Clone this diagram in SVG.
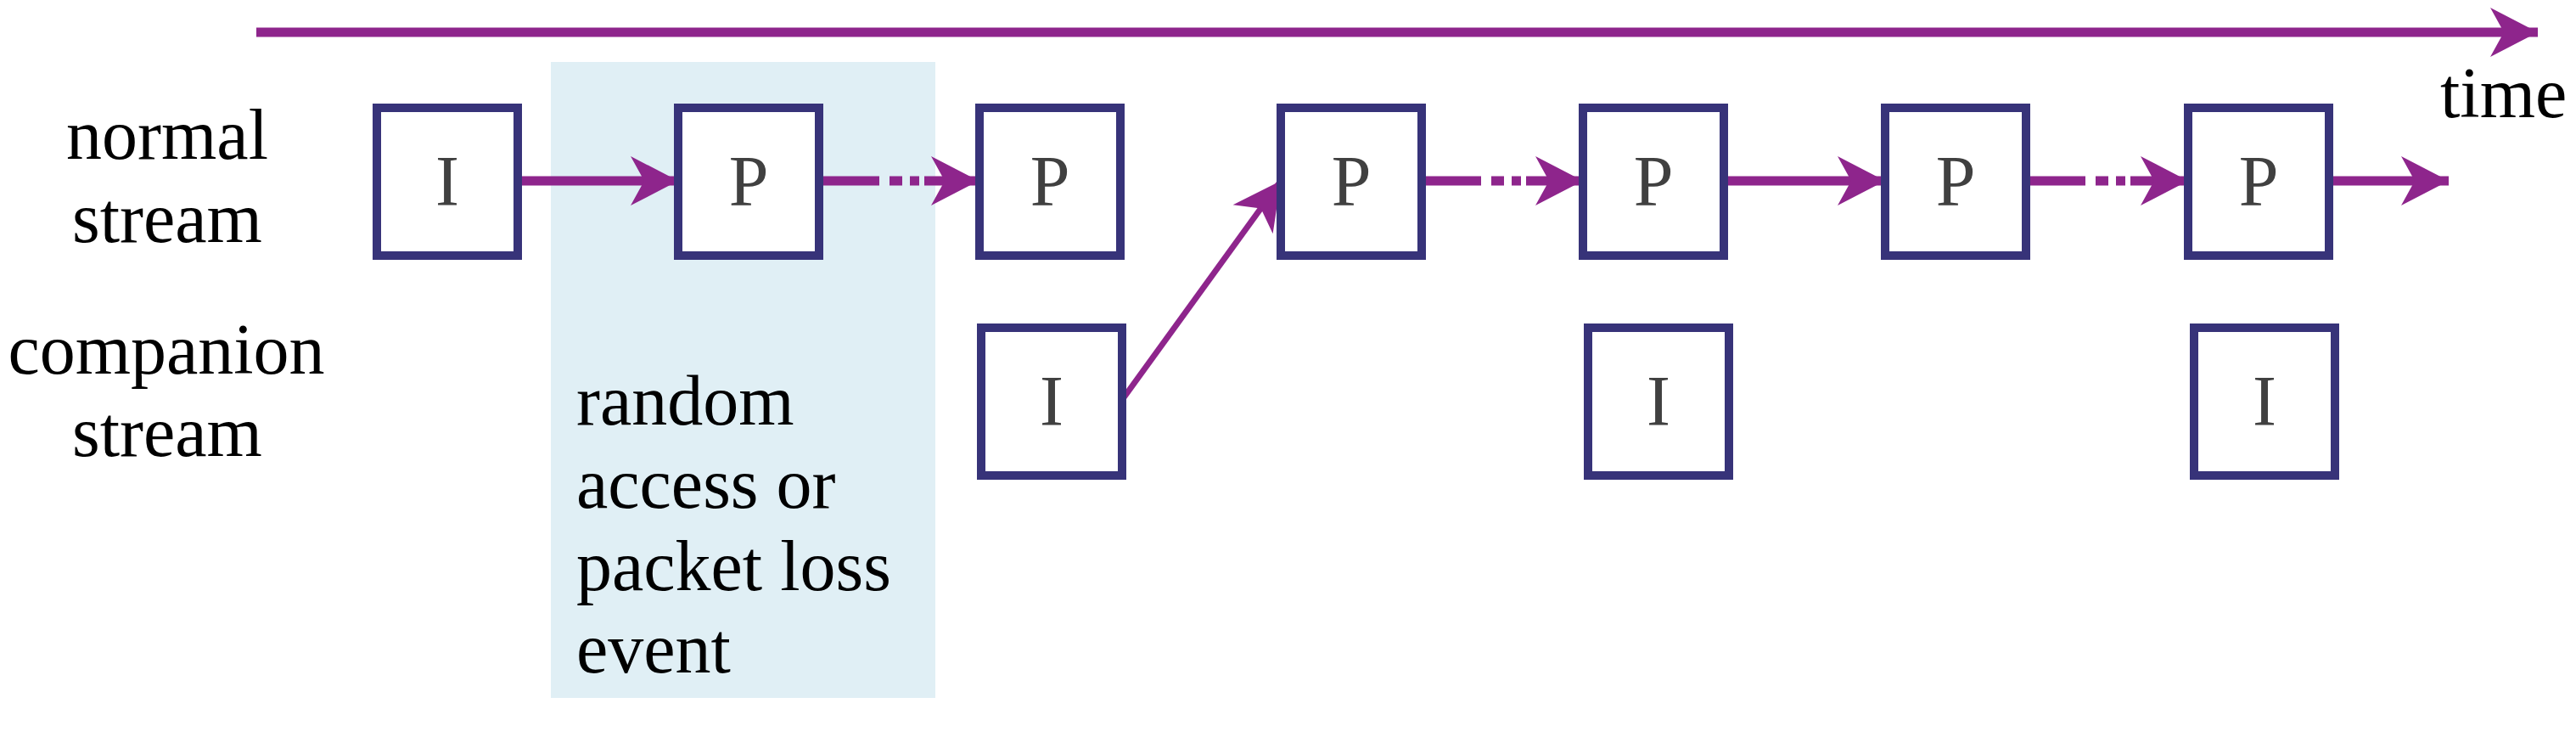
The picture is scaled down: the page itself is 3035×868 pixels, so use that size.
<svg xmlns="http://www.w3.org/2000/svg" width="3035" height="868" viewBox="0 0 3035 868">
<style>
.box{fill:#fff;stroke:#373379;stroke-width:10}
.lbl{font-family:"Liberation Serif",serif;font-size:84px;fill:#404040;text-anchor:middle}
.t{font-family:"Liberation Serif",serif;font-size:84px;fill:#000}
.c{stroke:#8e258c;stroke-width:11;fill:none}
</style>
<defs>
<marker id="ah" markerUnits="userSpaceOnUse" viewBox="-60 -30 62 60" markerWidth="62" markerHeight="60" refX="0" refY="0" orient="auto">
<polygon points="0,0 -56,-29 -40,0 -56,29" fill="#8e258c"/>
</marker>
</defs>
<rect x="649" y="73" width="453" height="749" fill="#e0eff5"/>
<g id="connectors">
<line class="c" x1="302" y1="38" x2="2990" y2="38" marker-end="url(#ah)"/>
<line class="c" x1="612" y1="213" x2="799" y2="213" marker-end="url(#ah)"/>
<line class="c" x1="966" y1="213" x2="1153" y2="213" stroke-dasharray="70 12 15 9 11 6 200" marker-end="url(#ah)"/>
<line class="c" style="stroke-width:7" x1="1322" y1="471" x2="1509" y2="213" marker-end="url(#ah)"/>
<line class="c" x1="1675" y1="213" x2="1865" y2="213" stroke-dasharray="70 12 15 9 11 6 200" marker-end="url(#ah)"/>
<line class="c" x1="2031" y1="213" x2="2221" y2="213" marker-end="url(#ah)"/>
<line class="c" x1="2387" y1="213" x2="2578" y2="213" stroke-dasharray="70 12 15 9 11 6 200" marker-end="url(#ah)"/>
<line class="c" x1="2744" y1="213" x2="2885" y2="213" marker-end="url(#ah)"/>
</g>
<g id="n1"><rect class="box" x="444" y="127" width="166" height="174"/><text class="lbl" x="527" y="242">I</text></g>
<g id="n2"><rect class="box" x="799" y="127" width="166" height="174"/><text class="lbl" x="882" y="242">P</text></g>
<g id="n3"><rect class="box" x="1154" y="127" width="166" height="174"/><text class="lbl" x="1237" y="242">P</text></g>
<g id="n4"><rect class="box" x="1509" y="127" width="166" height="174"/><text class="lbl" x="1592" y="242">P</text></g>
<g id="n5"><rect class="box" x="1865" y="127" width="166" height="174"/><text class="lbl" x="1948" y="242">P</text></g>
<g id="n6"><rect class="box" x="2221" y="127" width="166" height="174"/><text class="lbl" x="2304" y="242">P</text></g>
<g id="n7"><rect class="box" x="2578" y="127" width="166" height="174"/><text class="lbl" x="2661" y="242">P</text></g>
<g id="c1"><rect class="box" x="1156" y="386" width="166" height="174"/><text class="lbl" x="1239" y="501">I</text></g>
<g id="c2"><rect class="box" x="1871" y="386" width="166" height="174"/><text class="lbl" x="1954" y="501">I</text></g>
<g id="c3"><rect class="box" x="2585" y="386" width="166" height="174"/><text class="lbl" x="2668" y="501">I</text></g>
<g id="labels">
<text class="t" x="197" y="187" text-anchor="middle">normal</text>
<text class="t" x="197" y="285" text-anchor="middle">stream</text>
<text class="t" x="196" y="440" text-anchor="middle">companion</text>
<text class="t" x="197" y="537" text-anchor="middle">stream</text>
<text class="t" x="679" y="500">random</text>
<text class="t" x="679" y="598">access or</text>
<text class="t" x="679" y="695">packet loss</text>
<text class="t" x="679" y="792">event</text>
<text class="t" x="2875" y="138">time</text>
</g>
</svg>
